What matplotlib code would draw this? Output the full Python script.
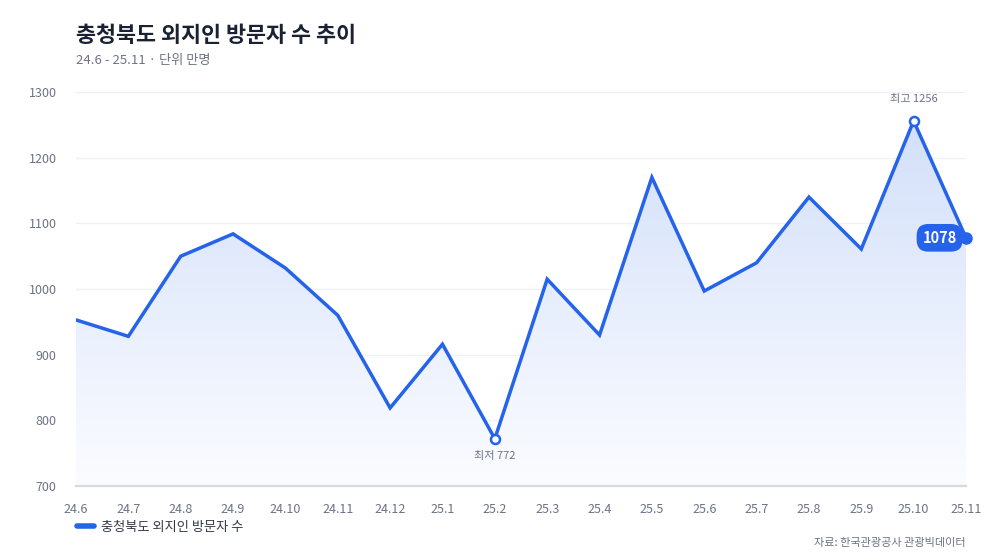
import matplotlib
matplotlib.use("Agg")
import matplotlib.pyplot as plt
import numpy as np
from matplotlib.patches import Polygon
from matplotlib.colors import LinearSegmentedColormap

plt.rcParams['font.family'] = ['Noto Sans CJK KR', 'DejaVu Sans']

months = ["24.6", "24.7", "24.8", "24.9", "24.10", "24.11", "24.12", "25.1", "25.2",
          "25.3", "25.4", "25.5", "25.6", "25.7", "25.8", "25.9", "25.10", "25.11"]
visitors = [953, 928, 1050, 1084, 1032, 960, 819, 916, 772,
            1015, 930, 1170, 997, 1040, 1140, 1061, 1256, 1078]
yticks = [700, 800, 900, 1000, 1100, 1200, 1300]

title = "충청북도 외지인 방문자 수 추이"
subtitle = "24.6 - 25.11 · 단위 만명"
series_name = "충청북도 외지인 방문자 수"
source = "자료: 한국관광공사 관광빅데이터"

line_color = "#2563eb"
tick_color = "#6b7385"

fig = plt.figure(figsize=(10, 5.6), dpi=100)
ax = fig.add_axes([0.076, 0.132, 0.890, 0.7037])

x = np.arange(len(months))
ymin, ymax = 700, 1300
ax.set_xlim(0, len(months) - 1)
ax.set_ylim(ymin, ymax)

# gradient fill under the line
grad = np.linspace(0, 1, 256).reshape(-1, 1)
cmap = LinearSegmentedColormap.from_list("g", ["#fbfcff", "#d3e0fa"])
im = ax.imshow(grad, aspect='auto', cmap=cmap, origin='lower',
               extent=[0, len(months) - 1, ymin, max(visitors)], zorder=1)
verts = [(0, ymin)] + list(zip(x, visitors)) + [(len(months) - 1, ymin)]
poly = Polygon(verts, closed=True, facecolor='none', edgecolor='none')
ax.add_patch(poly)
im.set_clip_path(poly)

for yt in yticks[1:]:
    ax.axhline(yt, color="#eef1f6", lw=1, zorder=0.5)

ax.plot(x, visitors, color=line_color, lw=2.5, zorder=3, solid_joinstyle='miter',
        label=series_name)

imax = int(np.argmax(visitors))
imin = int(np.argmin(visitors))
ax.plot([imax, imin], [visitors[imax], visitors[imin]], 'o', ms=6.5, mfc='white',
        mec=line_color, mew=1.8, zorder=4)
ax.annotate(f"최고 {visitors[imax]}", (imax, visitors[imax]), xytext=(0, 12),
            textcoords='offset points', ha='center', va='bottom', fontsize=8, color=tick_color)
ax.annotate(f"최저 {visitors[imin]}", (imin, visitors[imin]), xytext=(0, -9),
            textcoords='offset points', ha='center', va='top', fontsize=8, color=tick_color)

last = len(months) - 1
ax.plot([last], [visitors[last]], 'o', ms=8, color=line_color, zorder=5, clip_on=False)
ax.annotate(f"{visitors[last]}", (last, visitors[last]), xytext=(-19, 0),
            textcoords='offset points', ha='center', va='center', fontsize=10.5,
            color='white', fontweight='bold', zorder=6,
            bbox=dict(boxstyle='round,pad=0.4,rounding_size=0.8', fc=line_color, ec='none'))

ax.set_yticks(yticks)
ax.set_xticks(x)
ax.set_xticklabels(months)
ax.tick_params(axis='both', length=0, colors=tick_color, labelsize=9)
ax.tick_params(axis='x', pad=12)
ax.tick_params(axis='y', pad=14)
for s in ['top', 'right', 'left']:
    ax.spines[s].set_visible(False)
ax.spines['bottom'].set_color("#d5dae3")
ax.spines['bottom'].set_linewidth(1.6)
ax.spines['bottom'].set_zorder(2)

fig.text(0.076, 0.937, title, fontsize=15.7, fontweight='bold', color="#1a2133", va='center')
fig.text(0.076, 0.892, subtitle, fontsize=9.5, color=tick_color, va='center')

ax.legend(loc='upper left', bbox_to_anchor=(-0.005, -0.075), frameon=False, fontsize=9.5,
          handlelength=1.3, handletextpad=0.5, labelcolor="#333a48", borderaxespad=0)
leg = ax.get_legend()
for h in leg.get_lines():
    h.set_linewidth(4)
    h.set_solid_capstyle('round')

fig.text(0.966, 0.03, source, fontsize=8, color=tick_color, ha='right', va='center')

fig.savefig("out.png", dpi=100)
